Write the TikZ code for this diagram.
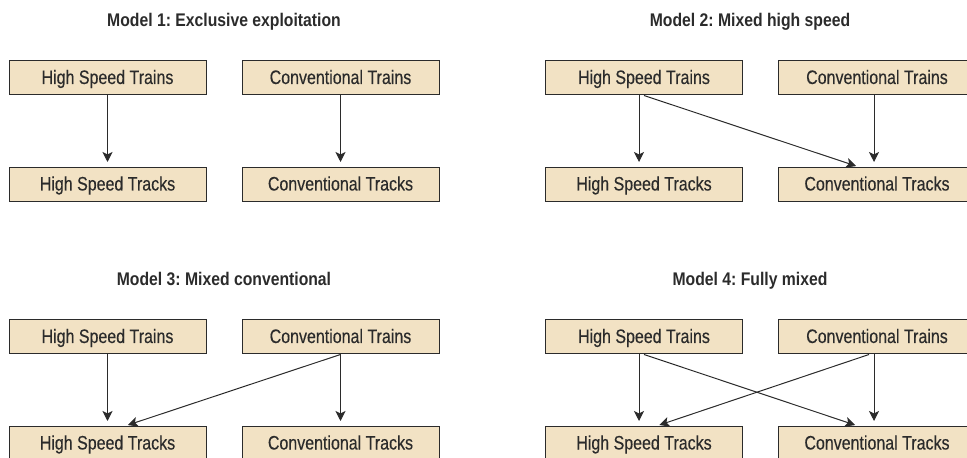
\documentclass[tikz,border=0pt]{standalone}
\usepackage{fontspec}
\setmainfont{Liberation Sans}
\newfontfamily\boxfont{Liberation Sans}[FakeStretch=0.82, FakeBold=0.3]
\newfontfamily\titlefont{Liberation Sans}[FakeStretch=0.86]
\usetikzlibrary{arrows.meta}
\frenchspacing
\definecolor{boxfill}{HTML}{F2E2C4}
\definecolor{ink}{HTML}{2B2B2B}
\tikzset{
  railbox/.style={draw=ink, fill=boxfill, line width=1pt, rectangle,
    minimum width=197pt, minimum height=34pt, inner sep=0pt,
    text height=14pt, text depth=2pt, text=ink,
    font=\boxfont\fontsize{19.5}{21}\selectfont},
  modeltitle/.style={anchor=base, text=ink,
    font=\titlefont\bfseries\fontsize{18.3}{20}\selectfont},
  link/.style={-{Stealth[length=10pt,width=10pt,inset=2.5pt]}, draw=ink, line width=1pt}
}
\begin{document}
\begin{tikzpicture}[x=1pt, y=1pt]
    \path[use as bounding box, clip] (0,0) rectangle (967,458);
    % titles
    \node[modeltitle] (t1) at (224,431.5) {Model 1: Exclusive exploitation};
    \node[modeltitle] (t2) at (750,431.5) {Model 2: Mixed high speed};
    \node[modeltitle] (t3) at (224,172) {Model 3: Mixed conventional};
    \node[modeltitle] (t4) at (750,172) {Model 4: Fully mixed};
    \begin{scope}[every node/.style={railbox}]
    % model 1
    \node (hst1) at (107.5,380) {High Speed Trains};
    \node (ct1) at (340.5,380) {Conventional Trains};
    \node (hsk1) at (107.5,273.5) {High Speed Tracks};
    \node (ck1) at (340.5,273.5) {Conventional Tracks};
    % model 2
    \node (hst2) at (644,380) {High Speed Trains};
    \node (ct2) at (877,380) {Conventional Trains};
    \node (hsk2) at (644,273.5) {High Speed Tracks};
    \node (ck2) at (877,273.5) {Conventional Tracks};
    % model 3
    \node (hst3) at (107.5,121) {High Speed Trains};
    \node (ct3) at (340.5,121) {Conventional Trains};
    \node (hsk3) at (107.5,14.5) {High Speed Tracks};
    \node (ck3) at (340.5,14.5) {Conventional Tracks};
    % model 4
    \node (hst4) at (644,121) {High Speed Trains};
    \node (ct4) at (877,121) {Conventional Trains};
    \node (hsk4) at (644,14.5) {High Speed Tracks};
    \node (ck4) at (877,14.5) {Conventional Tracks};
    \end{scope}
    \begin{scope}[link, shorten >=5pt]
      \draw (hst1) -- (hsk1);
      \draw (ct1) -- (ck1);
      \draw ([xshift=-5pt]hst2.south) -- ([xshift=-5pt]hsk2.north);
      \draw ([xshift=-3pt]ct2.south) -- ([xshift=-3pt]ck2.north);
      \draw (hst3) -- (hsk3);
      \draw (ct3) -- (ck3);
      \draw ([xshift=-5pt]hst4.south) -- ([xshift=-5pt]hsk4.north);
      \draw ([xshift=-3pt]ct4.south) -- ([xshift=-3pt]ck4.north);
    \end{scope}
    \begin{scope}[link, shorten >=3pt]
      \draw (hst2.south) -- ([xshift=-18pt]ck2.north);
      \draw (ct3.south) -- ([xshift=17.5pt]hsk3.north);
      \draw (hst4.south) -- ([xshift=-19pt]ck4.north);
      \draw ([xshift=-8pt]ct4.south) -- ([xshift=12.5pt]hsk4.north);
    \end{scope}
  \end{tikzpicture}
\end{document}
